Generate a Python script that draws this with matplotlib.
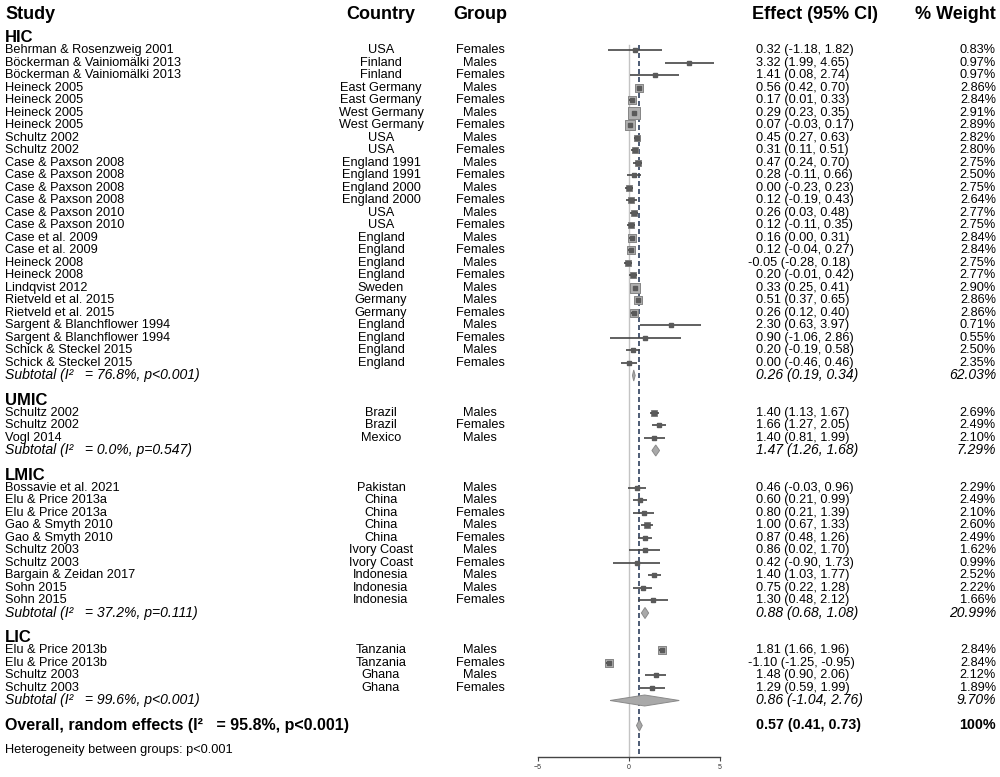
"""Forest plot of effects by country income group."""
import matplotlib.pyplot as plt
import matplotlib.transforms as mtransforms
from matplotlib.patches import Polygon
import numpy as np

plt.rcParams["font.family"] = ["Liberation Sans", "DejaVu Sans"]

# ---- data -----------------------------------------------------------------
regions = ["HIC", "UMIC", "LMIC", "LIC"]

study_region = (["HIC"] * 26 + ["UMIC"] * 3 + ["LMIC"] * 10 + ["LIC"] * 4)
study = [
    "Behrman & Rosenzweig 2001", "Böckerman & Vainiomälki 2013", "Böckerman & Vainiomälki 2013",
    "Heineck 2005", "Heineck 2005", "Heineck 2005", "Heineck 2005",
    "Schultz 2002", "Schultz 2002",
    "Case & Paxson 2008", "Case & Paxson 2008", "Case & Paxson 2008", "Case & Paxson 2008",
    "Case & Paxson 2010", "Case & Paxson 2010", "Case et al. 2009", "Case et al. 2009",
    "Heineck 2008", "Heineck 2008", "Lindqvist 2012", "Rietveld et al. 2015", "Rietveld et al. 2015",
    "Sargent & Blanchflower 1994", "Sargent & Blanchflower 1994",
    "Schick & Steckel 2015", "Schick & Steckel 2015",
    "Schultz 2002", "Schultz 2002", "Vogl 2014",
    "Bossavie et al. 2021", "Elu & Price 2013a", "Elu & Price 2013a", "Gao & Smyth 2010",
    "Gao & Smyth 2010", "Schultz 2003", "Schultz 2003", "Bargain & Zeidan 2017", "Sohn 2015", "Sohn 2015",
    "Elu & Price 2013b", "Elu & Price 2013b", "Schultz 2003", "Schultz 2003",
]
country = [
    "USA", "Finland", "Finland", "East Germany", "East Germany", "West Germany", "West Germany",
    "USA", "USA", "England 1991", "England 1991", "England 2000", "England 2000", "USA", "USA",
    "England", "England", "England", "England", "Sweden", "Germany", "Germany",
    "England", "England", "England", "England",
    "Brazil", "Brazil", "Mexico",
    "Pakistan", "China", "China", "China", "China", "Ivory Coast", "Ivory Coast",
    "Indonesia", "Indonesia", "Indonesia",
    "Tanzania", "Tanzania", "Ghana", "Ghana",
]
group = [
    "Females", "Males", "Females", "Males", "Females", "Males", "Females", "Males", "Females",
    "Males", "Females", "Males", "Females", "Males", "Females", "Males", "Females", "Males",
    "Females", "Males", "Males", "Females", "Males", "Females", "Males", "Females",
    "Males", "Females", "Males",
    "Males", "Males", "Females", "Males", "Females", "Males", "Females", "Males", "Males", "Females",
    "Males", "Females", "Males", "Females",
]
effect = [0.32, 3.32, 1.41, 0.56, 0.17, 0.29, 0.07, 0.45, 0.31, 0.47, 0.28, 0.00, 0.12, 0.26,
          0.12, 0.16, 0.12, -0.05, 0.20, 0.33, 0.51, 0.26, 2.30, 0.90, 0.20, 0.00,
          1.40, 1.66, 1.40,
          0.46, 0.60, 0.80, 1.00, 0.87, 0.86, 0.42, 1.40, 0.75, 1.30,
          1.81, -1.10, 1.48, 1.29]
ci_low = [-1.18, 1.99, 0.08, 0.42, 0.01, 0.23, -0.03, 0.27, 0.11, 0.24, -0.11, -0.23, -0.19, 0.03,
          -0.11, 0.00, -0.04, -0.28, -0.01, 0.25, 0.37, 0.12, 0.63, -1.06, -0.19, -0.46,
          1.13, 1.27, 0.81,
          -0.03, 0.21, 0.21, 0.67, 0.48, 0.02, -0.90, 1.03, 0.22, 0.48,
          1.66, -1.25, 0.90, 0.59]
ci_high = [1.82, 4.65, 2.74, 0.70, 0.33, 0.35, 0.17, 0.63, 0.51, 0.70, 0.66, 0.23, 0.43, 0.48,
           0.35, 0.31, 0.27, 0.18, 0.42, 0.41, 0.65, 0.40, 3.97, 2.86, 0.58, 0.46,
           1.67, 2.05, 1.99,
           0.96, 0.99, 1.39, 1.33, 1.26, 1.70, 1.73, 1.77, 1.28, 2.12,
           1.96, -0.95, 2.06, 1.99]
weight = [0.83, 0.97, 0.97, 2.86, 2.84, 2.91, 2.89, 2.82, 2.80, 2.75, 2.50, 2.75, 2.64, 2.77,
          2.75, 2.84, 2.84, 2.75, 2.77, 2.90, 2.86, 2.86, 0.71, 0.55, 2.50, 2.35,
          2.69, 2.49, 2.10,
          2.29, 2.49, 2.10, 2.60, 2.49, 1.62, 0.99, 2.52, 2.22, 1.66,
          2.84, 2.84, 2.12, 1.89]

sub_i2 = ["76.8%", "0.0%", "37.2%", "99.6%"]
sub_p = ["p<0.001", "p=0.547", "p=0.111", "p<0.001"]
sub_effect = [0.26, 1.47, 0.88, 0.86]
sub_low = [0.19, 1.26, 0.68, -1.04]
sub_high = [0.34, 1.68, 1.08, 2.76]
sub_weight = [62.03, 7.29, 20.99, 9.70]

overall_i2, overall_p = "95.8%", "p<0.001"
overall_effect, overall_low, overall_high = 0.57, 0.41, 0.73
heterogeneity_p = "p<0.001"

# ---- figure ---------------------------------------------------------------
W, H = 1000, 777
fig = plt.figure(figsize=(W / 100, H / 100), dpi=100)
axis_px = 756.7
ax = fig.add_axes([538 / W, 1 - axis_px / H, 182 / W, axis_px / H])
row0_px, row_px = 38.0, 12.5
ax.set_xlim(-5, 5)
ax.set_ylim((axis_px - row0_px) / row_px, -row0_px / row_px)
for s in ["left", "right", "top"]:
    ax.spines[s].set_visible(False)
ax.spines["bottom"].set_color("#444444")
ax.spines["bottom"].set_linewidth(1.0)
ax.set_yticks([])
ax.set_xticks([-5, 0, 5])
ax.tick_params(axis="x", labelsize=5, length=3, width=0.8, color="#444444", labelcolor="#333333", pad=2)
ax.patch.set_alpha(0)

tr = mtransforms.blended_transform_factory(fig.transFigure, ax.transData)

BODY = 9.2
def txt(x, y, s, **kw):
    kw.setdefault("fontsize", BODY)
    kw.setdefault("va", "center")
    ax.text(x / W, y, s, transform=tr, clip_on=False, **kw)

def eff_str(e, lo, hi):
    return f"{e:.2f} ({lo:.2f}, {hi:.2f})"

def eff_x(e):
    return 756 if e >= 0 else 748.5

# headers
hdr_y = (15 - row0_px) / row_px
for x, s, ha in [(5, "Study", "left"), (381, "Country", "center"), (480, "Group", "center"),
                 (815, "Effect (95% CI)", "center"), (996, "% Weight", "right")]:
    txt(x, hdr_y, s, ha=ha, fontsize=13, fontweight="bold")

effect = np.array(effect)
ci_low = np.array(ci_low)
ci_high = np.array(ci_high)
se = (ci_high - ci_low) / (2 * 1.96)
box_px = 2.1 * np.sqrt(1 / se)

row = 0
for k, reg in enumerate(regions):
    txt(5, row, reg, fontsize=12, fontweight="bold")
    row += 1
    idx = [i for i, r in enumerate(study_region) if r == reg]
    for i in idx:
        txt(5, row, study[i])
        txt(381, row, country[i], ha="center")
        txt(480, row, group[i], ha="center")
        txt(eff_x(effect[i]), row, eff_str(effect[i], ci_low[i], ci_high[i]))
        txt(996, row, f"{weight[i]:.2f}%", ha="right")
        side_pt = box_px[i] * 0.72
        ax.scatter([effect[i]], [row], marker="s", s=side_pt ** 2, color="#b0b0b0",
                   edgecolor="#858585", linewidth=0.7, zorder=3, clip_on=False)
        ax.plot([ci_low[i], ci_high[i]], [row, row], color="#454545", lw=1.2,
                zorder=4, solid_capstyle="butt")
        ax.plot([effect[i]], [row], marker="s", ms=2.2, color="#5a5a5a", mec="#5a5a5a",
                zorder=5)
        row += 1
    txt(5, row, f"Subtotal (I²   = {sub_i2[k]}, {sub_p[k]})", fontsize=10.1, style="italic")
    txt(eff_x(sub_effect[k]), row, eff_str(sub_effect[k], sub_low[k], sub_high[k]),
        fontsize=10, style="italic")
    txt(996, row, f"{sub_weight[k]:.2f}%", ha="right", fontsize=10, style="italic")
    h = 0.44
    ax.add_patch(Polygon([(sub_low[k], row), (sub_effect[k], row - h), (sub_high[k], row),
                          (sub_effect[k], row + h)], closed=True, facecolor="#a9a9a9",
                         edgecolor="#8a8a8a", lw=0.7, zorder=3))
    row += 2

# overall
txt(5, row, f"Overall, random effects (I²   = {overall_i2}, {overall_p})", fontsize=11.5,
    fontweight="bold")
txt(eff_x(overall_effect), row, eff_str(overall_effect, overall_low, overall_high),
    fontsize=10.3, fontweight="bold")
txt(996, row, "100%", ha="right", fontsize=10.3, fontweight="bold")
h = 0.44
ax.add_patch(Polygon([(overall_low, row), (overall_effect, row - h), (overall_high, row),
                      (overall_effect, row + h)], closed=True, facecolor="#a9a9a9",
                     edgecolor="#8a8a8a", lw=0.7, zorder=3))
row += 2
txt(5, row, f"Heterogeneity between groups: {heterogeneity_p}")

# reference lines
ybot = ax.get_ylim()[0]
ax.plot([0, 0], [0.55, ybot], color="#c4c4c4", lw=1.0, zorder=1)
ax.plot([overall_effect, overall_effect], [0.55, ybot], color="#2f405e", lw=1.2,
        dashes=(3, 1.8), zorder=2)

fig.savefig("out.png", dpi=100)
